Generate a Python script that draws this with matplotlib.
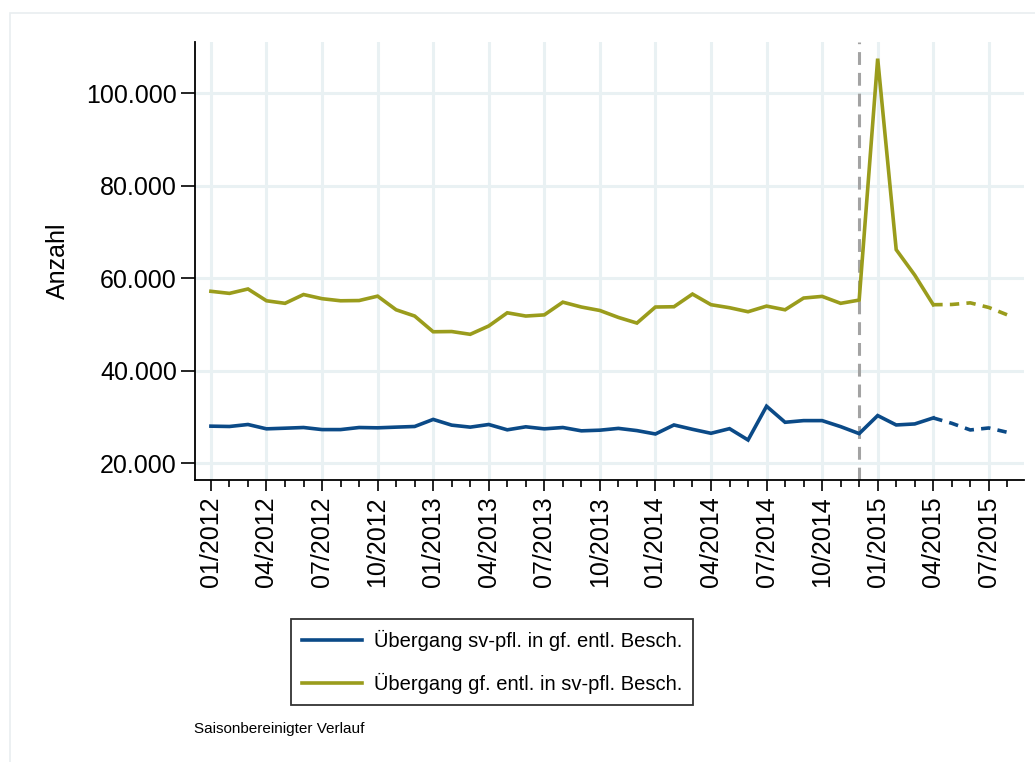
import matplotlib
matplotlib.use("Agg")
import matplotlib.pyplot as plt
from matplotlib.patches import Rectangle
from matplotlib.ticker import FuncFormatter, MultipleLocator

# ---------------------------------------------------------------------------
# Data (monthly, 01/2012 .. 08/2015)
# ---------------------------------------------------------------------------

months = [f"{m:02d}/{y}" for y in (2012, 2013, 2014, 2015) for m in range(1, 13)][:44]

sv_to_gf = [
    28040, 27970, 28400, 27460, 27600, 27750, 27300, 27300, 27750, 27680, 27830, 27970,
    29500, 28260, 27830, 28400, 27250, 27900, 27460, 27750, 27030, 27170, 27560, 27080,
    26350, 28300, 27360, 26500, 27500, 25050, 32350, 28880, 29240, 29240, 27940, 26430,
    30330, 28300, 28520, 29820, 28660, 27220, 27650, 26710,
]
gf_to_sv = [
    57200, 56750, 57700, 55150, 54600, 56500, 55600, 55150, 55200, 56150, 53200, 51850,
    48450, 48500, 47900, 49700, 52550, 51850, 52100, 54850, 53800, 53050, 51550, 50330,
    53800, 53860, 56600, 54300, 53650, 52780, 54000, 53200, 55740, 56100, 54600, 55300,
    107500, 66200, 60700, 54300, 54350, 54700, 53700, 52100,
]

labels = ["Übergang sv-pfl. in gf. entl. Besch.", "Übergang gf. entl. in sv-pfl. Besch."]
note = "Saisonbereinigter Verlauf"
ylabel = "Anzahl"

last_solid = 39   # 04/2015: later months are drawn dashed
reform_month = 35  # 12/2014: vertical marker

# ---------------------------------------------------------------------------
# Style
# ---------------------------------------------------------------------------

_BLUE = "#0b4a87"
_OLIVE = "#9a9c1c"
_GRID = "#e9f1f3"
_MARK = "#a3a3a3"

plt.rcParams.update({
    "font.family": ["Liberation Sans", "DejaVu Sans"],
    "font.size": 18,
})

fig = plt.figure(figsize=(10.35, 7.62), dpi=100)
fig.patches.append(Rectangle((10 / 1035, -0.01), 1.02, 1 - 13 / 762 + 0.01,
                             transform=fig.transFigure, fill=False,
                             edgecolor="#e9eef0", linewidth=1.2))

ax = fig.add_axes([195 / 1035, 1 - 480 / 762, 829 / 1035, 438 / 762])

x = list(range(len(months)))
for series, color, label in zip((sv_to_gf, gf_to_sv), (_BLUE, _OLIVE), labels):
    ax.plot(x[:last_solid + 1], series[:last_solid + 1], color=color, linewidth=2.6,
            label=label, solid_joinstyle="miter", zorder=3)
    ax.plot(x[last_solid:], series[last_solid:], color=color, linewidth=2.6,
            linestyle=(0, (2.6, 2.0)), zorder=3)

ax.axvline(reform_month, color=_MARK, linewidth=2.2, linestyle=(0, (4.2, 2.6)), zorder=2)

ax.set_xlim(-0.86, 43.9)
ax.set_ylim(16400, 111100)

ax.xaxis.set_major_locator(MultipleLocator(3))
ax.xaxis.set_minor_locator(MultipleLocator(1))
ax.xaxis.set_major_formatter(FuncFormatter(
    lambda v, p: months[int(round(v))] if 0 <= round(v) < len(months) else ""))
ax.set_yticks([20000, 40000, 60000, 80000, 100000])
ax.yaxis.set_major_formatter(FuncFormatter(lambda v, p: f"{int(v):,}".replace(",", ".")))

ax.tick_params(axis="x", which="major", rotation=90, length=8, width=1.2, pad=4)
ax.tick_params(axis="x", which="minor", length=5, width=1.2)
ax.tick_params(axis="y", length=10, width=1.2, pad=3)

ax.grid(which="major", color=_GRID, linewidth=2.2, zorder=0)
ax.set_axisbelow(True)
for side in ("top", "right"):
    ax.spines[side].set_visible(False)
for side in ("left", "bottom"):
    ax.spines[side].set_linewidth(1.3)

ax.set_ylabel(ylabel, labelpad=12)

leg = fig.legend(loc="upper left", bbox_to_anchor=(291 / 1035, 1 - 619 / 762),
                 fontsize=14.5, frameon=True, fancybox=False, handlelength=3.0,
                 handletextpad=0.55, labelspacing=1.1, borderpad=0.55, borderaxespad=0)
leg.get_frame().set_edgecolor("black")
leg.get_frame().set_linewidth(1.3)

fig.text(194 / 1035, 1 - 729 / 762, note, fontsize=11, va="center", ha="left")

fig.savefig("out.png", dpi=100)
